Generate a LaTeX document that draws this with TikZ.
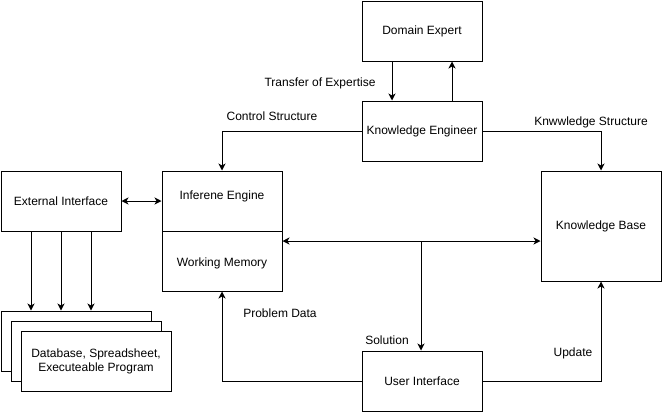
\documentclass[tikz,border=0pt]{standalone}
\usepackage{fontspec}
\setmainfont{Liberation Sans}
\usetikzlibrary{arrows.meta}
\tikzset{
  box/.style={draw,line width=1pt,fill=white,minimum width=120pt,minimum height=60pt,inner sep=0pt,align=center},
  lab/.style={font=\fontsize{12}{14}\selectfont},
  tip/.style={-{Stealth[length=7pt,width=7pt,inset=2pt]}},
  tips/.style={{Stealth[length=7pt,width=7pt,inset=2pt]}-{Stealth[length=7pt,width=7pt,inset=2pt]}}
}
\begin{document}
\begin{tikzpicture}[x=1pt,y=-1pt,line width=1pt,font=\fontsize{12}{14}\selectfont]
\useasboundingbox (0,0) rectangle (663,413);
% boxes
\node[box] (de) at (422,31) {Domain Expert};
\node[box] (ke) at (422,131) {Knowledge Engineer};
\node[box] (ie) at (222,201) {};
\node[box] (wm) at (222,261) {};
\node (iet) at (222,196) {Inferene Engine};
\node (wmt) at (222,263) {Working Memory};
\node[box] (ei) at (61,201) {External Interface};
\node[box,minimum height=110pt] (kb) at (601,226) {Knowledge Base};
\node[box] (ui) at (422,381) {User Interface};
%
\node[box,minimum width=150pt] (db1) at (76,341) {};
\node[box,minimum width=150pt] (db2) at (86,351) {};
\node[box,minimum width=150pt] (db3) at (96,361) {Database, Spreadsheet,\\Executeable Program};
% connectors
\draw[tip] ([xshift=-30pt]de.south) -- ([xshift=-30pt]ke.north);
\draw[tip] ([xshift=30pt]ke.north) -- ([xshift=30pt]de.south);
\node[lab] (toe) at (320,83) {Transfer of Expertise};
\draw[tip] (ke.west) -| (ie.north);
\node[lab] (cs) at (272,116) {Control Structure};
\draw[tip] (ke.east) -| (kb.north);
\node[lab] (ks) at (591,122) {Knwwledge Structure};
\draw[tips] (ei.east) -- (ie.west |- ei.east);
\foreach \dx in {-30,0,30}
  \draw[tip] ([xshift=\dx pt]ei.south) -- ([xshift=\dx pt]ei.south |- db1.north);
%
\coordinate (mid) at (421,241);
\draw[tips] (wm.east |- mid) -- (kb.west |- mid);
\draw[tip] (mid) -- (mid |- ui.north);
\node[lab] (sol) at (387,340) {Solution};
\draw[tip] (ui.west) -| (wm.south);
\node[lab] (pd) at (280,313) {Problem Data};
\draw[tip] (ui.east) -| (kb.south);
\node[lab] (upd) at (573,353) {Update};
\end{tikzpicture}
\end{document}
